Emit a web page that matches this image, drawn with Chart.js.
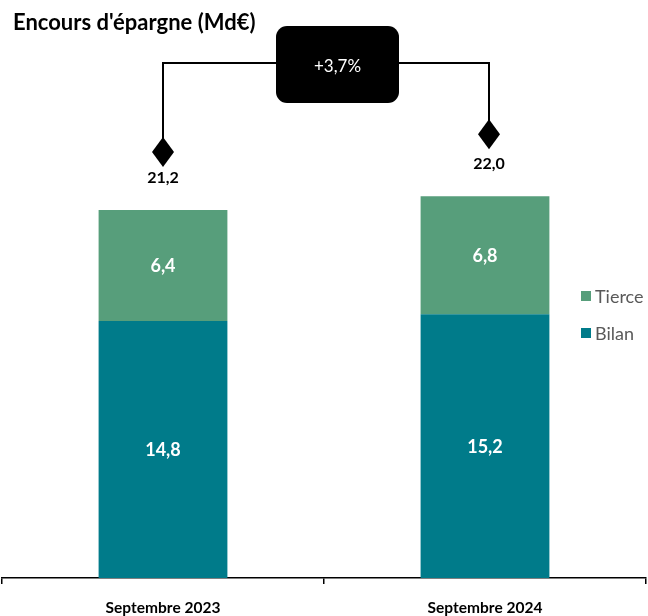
<!DOCTYPE html>
<html>
<head>
<meta charset="utf-8">
<script src="https://cdn.jsdelivr.net/npm/chart.js@4/dist/chart.umd.min.js"></script>
<style>
  html, body { margin: 0; padding: 0; background: #fff; }
  #wrap { width: 648px; height: 616px; }
</style>
</head>
<body>
<div id="wrap"><canvas id="c" width="648" height="616"></canvas></div>
<script>
const categories = ['Septembre 2023', 'Septembre 2024']
const bilan = [14.8, 15.2]
const tierce = [6.4, 6.8]
const growthLabel = '+3,7%'
const title = "Encours d'épargne (Md€)"

const BILAN_COLOR = '#007b8a'
const TIERCE_COLOR = '#579e7b'
const FONT = 'Lato, "Open Sans", sans-serif'

const fmt = v => v.toFixed(1).replace('.', ',')

// labels inside the bars, totals with diamonds, growth box, legend, title
const overlayPlugin = {
    id: 'overlay',
    afterDatasetsDraw(chart) {
        const ctx = chart.ctx
        const x = chart.scales.x
        const y = chart.scales.y

        ctx.save()
        ctx.textAlign = 'center'
        ctx.textBaseline = 'middle'
        ctx.fillStyle = '#fff'
        ctx.font = 'bold 18px ' + FONT
        chart.data.datasets.forEach((ds, di) => {
            chart.getDatasetMeta(di).data.forEach((bar, i) => {
                ctx.fillText(fmt(ds.data[i]), bar.x, (bar.y + bar.base) / 2 + 1)
            })
        })

        // totals
        const totals = categories.map((c, i) => bilan[i] + tierce[i])
        const lineY = 63
        const pts = totals.map((t, i) => ({
            x: x.getPixelForValue(i),
            top: y.getPixelForValue(t)
        }))

        ctx.strokeStyle = '#000'
        ctx.lineWidth = 2
        ctx.beginPath()
        ctx.moveTo(pts[0].x, pts[0].top - 58)
        ctx.lineTo(pts[0].x, lineY)
        ctx.lineTo(pts[1].x + 4, lineY)
        ctx.lineTo(pts[1].x + 4, pts[1].top - 62)
        ctx.stroke()

        ctx.fillStyle = '#000'
        pts.forEach((p, i) => {
            const cx = p.x + (i === 1 ? 4 : 0)
            const cy = p.top - (i === 1 ? 62 : 58)
            ctx.beginPath()
            ctx.moveTo(cx, cy - 15)
            ctx.lineTo(cx + 11, cy)
            ctx.lineTo(cx, cy + 15)
            ctx.lineTo(cx - 11, cy)
            ctx.closePath()
            ctx.fill()
            ctx.font = 'bold 16px ' + FONT
            ctx.fillText(fmt(totals[i]), cx, p.top - 32)
        })

        // growth box
        const bx = 276, by = 26, bw = 123, bh = 77
        ctx.beginPath()
        ctx.roundRect(bx, by, bw, bh, 11)
        ctx.fill()
        ctx.fillStyle = '#fff'
        ctx.font = '17px ' + FONT
        ctx.fillText(growthLabel, bx + bw / 2, by + bh / 2 + 2)

        // legend
        const items = [
            { label: 'Tierce', color: TIERCE_COLOR, y: 296 },
            { label: 'Bilan', color: BILAN_COLOR, y: 333 }
        ]
        ctx.textAlign = 'left'
        ctx.font = '18px ' + FONT
        items.forEach(it => {
            ctx.fillStyle = it.color
            ctx.fillRect(581, it.y - 5, 10, 10)
            ctx.fillStyle = '#595959'
            ctx.fillText(it.label, 595, it.y + 1)
        })

        // title
        ctx.fillStyle = '#000'
        ctx.font = 'bold 22px ' + FONT
        ctx.fillText(title, 13, 23)
        ctx.restore()
    }
}

new Chart(document.getElementById('c'), {
    type: 'bar',
    data: {
        labels: categories,
        datasets: [
            {
                label: 'Bilan',
                data: bilan,
                backgroundColor: BILAN_COLOR,
                barPercentage: 0.4,
                categoryPercentage: 1
            },
            {
                label: 'Tierce',
                data: tierce,
                backgroundColor: TIERCE_COLOR,
                barPercentage: 0.4,
                categoryPercentage: 1
            }
        ]
    },
    options: {
        responsive: false,
        animation: false,
        layout: { padding: { left: 2, right: 2, top: 0, bottom: 0 } },
        plugins: {
            legend: { display: false },
            tooltip: { enabled: false }
        },
        scales: {
            x: {
                stacked: true,
                afterFit: scale => { scale.height = 38 },
                border: { display: true, color: '#000', width: 1.5 },
                grid: {
                    display: true,
                    offset: true,
                    drawOnChartArea: false,
                    drawTicks: true,
                    tickLength: 6,
                    color: '#000',
                    lineWidth: 1.5
                },
                ticks: {
                    color: '#000',
                    padding: 15,
                    font: { family: FONT, size: 15.5, weight: 'bold' }
                }
            },
            y: {
                stacked: true,
                display: false,
                min: 0,
                max: 33.3
            }
        }
    },
    plugins: [overlayPlugin]
})
</script>
</body>
</html>
